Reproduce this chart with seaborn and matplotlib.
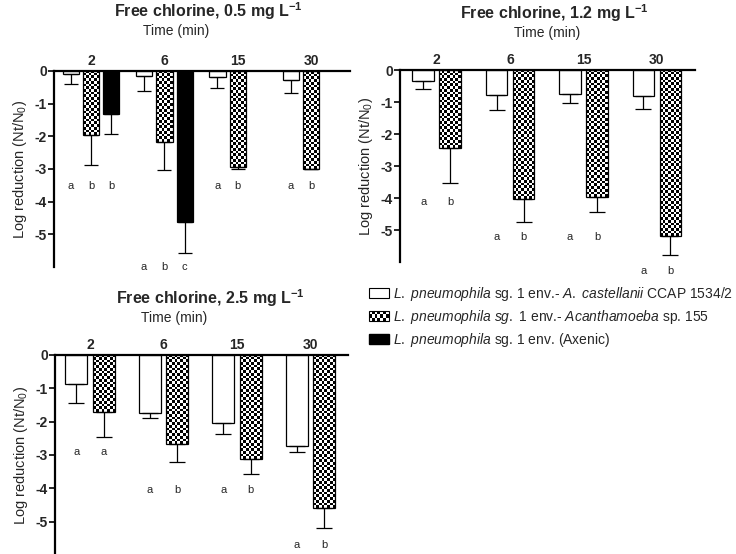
import numpy as np
import pandas as pd
import matplotlib
matplotlib.use("Agg")
import matplotlib.pyplot as plt
from matplotlib.colors import ListedColormap
from matplotlib.patches import Patch, Rectangle
from matplotlib.legend_handler import HandlerBase
import seaborn as sns

# ---------------- data ----------------
times = ["2", "6", "15", "30"]
strains = ["castellanii", "acanthamoeba", "axenic"]

# 0.5 mg/L
c05_cast = [-0.09, -0.14, -0.17, -0.28]
c05_cast_err = [0.32, 0.47, 0.36, 0.38]
c05_acan = [-1.96, -2.18, -2.93, -2.99]
c05_acan_err = [0.92, 0.85, 0.07, 0.02]
c05_axen_times = ["2", "6"]
c05_axen = [-1.32, -4.63]
c05_axen_err = [0.62, 0.95]
c05_letters = [["a", "b", "b"], ["a", "b", "c"], ["a", "b"], ["a", "b"]]
c05_letter_y = [-3.52, -6.0, -3.52, -3.52]

# 1.2 mg/L
c12_cast = [-0.35, -0.79, -0.75, -0.82]
c12_cast_err = [0.23, 0.47, 0.27, 0.39]
c12_acan = [-2.43, -4.04, -3.98, -5.19]
c12_acan_err = [1.11, 0.71, 0.45, 0.58]
c12_letters = [["a", "b"], ["a", "b"], ["a", "b"], ["a", "b"]]
c12_letter_y = [-4.14, -5.22, -5.22, -6.29]

# 2.5 mg/L
c25_cast = [-0.87, -1.74, -2.05, -2.73]
c25_cast_err = [0.58, 0.16, 0.33, 0.17]
c25_acan = [-1.72, -2.68, -3.13, -4.60]
c25_acan_err = [0.75, 0.52, 0.45, 0.60]
c25_letters = [["a", "a"], ["a", "b"], ["a", "b"], ["a", "b"]]
c25_letter_y = [-2.9, -4.05, -4.05, -5.7]

yticks = [0, -1, -2, -3, -4, -5]
titles = ["0.5", "1.2", "2.5"]

legend_labels = [
    r"$\mathit{L.\ pneumophila}$ sg. 1 env.- $\mathit{A.\ castellanii}$ CCAP 1534/2",
    r"$\mathit{L.\ pneumophila\ sg.}$ 1 env.- $\mathit{Acanthamoeba}$ sp. 155",
    r"$\mathit{L.\ pneumophila}$ sg. 1 env. (Axenic)",
]

# ---------------- style ----------------
sns.set_style("white")
plt.rcParams["font.family"] = ["Liberation Sans", "DejaVu Sans"]
plt.rcParams["mathtext.fontset"] = "custom"
plt.rcParams["mathtext.rm"] = "Liberation Sans"
plt.rcParams["mathtext.it"] = "Liberation Sans:italic"
plt.rcParams["mathtext.bf"] = "Liberation Sans:bold"
plt.rcParams["axes.unicode_minus"] = False

fig = plt.figure(figsize=(7.36, 5.54), dpi=100)
W, H = 736.0, 554.0


def ax_px(left, right, top, bottom):
    return fig.add_axes([left / W, 1 - bottom / H, (right - left) / W, (bottom - top) / H])


def build_df(cast, acan, axen_times=None, axen=None):
    rows = []
    for t, v in zip(times, cast):
        rows.append((t, "castellanii", v))
    for t, v in zip(times, acan):
        rows.append((t, "acanthamoeba", v))
    if axen is not None:
        for t, v in zip(axen_times, axen):
            rows.append((t, "axenic", v))
    return pd.DataFrame(rows, columns=["time", "strain", "value"])


checker_cmap = ListedColormap(["white", "black"])


def checker_fill(ax, patch, cell=2.7):
    x0, y0 = patch.get_x(), patch.get_y()
    w, h = patch.get_width(), patch.get_height()
    (px0, py0), (px1, py1) = ax.transData.transform([(x0, y0), (x0 + w, y0 + h)])
    ncol = max(1, int(round(abs(px1 - px0) / cell)))
    nrow = max(1, int(round(abs(py1 - py0) / cell)))
    arr = np.add.outer(np.arange(nrow), np.arange(ncol)) % 2
    im = ax.imshow(arr, cmap=checker_cmap, vmin=0, vmax=1,
                   extent=(x0, x0 + w, min(y0, y0 + h), max(y0, y0 + h)),
                   aspect="auto", interpolation="nearest", zorder=1.5, origin="upper")
    im.set_clip_path(patch)


def panel(box, df, hue_order, errs, letters, letter_y, width, xlim, capsize, title, title_xy, time_xy):
    ax = ax_px(*box)
    pal = {"castellanii": "white", "acanthamoeba": "white", "axenic": "black"}
    sns.barplot(data=df, x="time", y="value", hue="strain", order=times,
                hue_order=hue_order, palette=pal, saturation=1, errorbar=None,
                width=width, gap=0.2, dodge=True, legend=False,
                edgecolor="black", linewidth=0.9, ax=ax)
    ax.set_xlim(*xlim)
    ax.set_ylim(-6.0, 0)
    for hi, (cont, strain) in enumerate(zip(ax.containers, hue_order)):
        for patch in cont.patches:
            xc = patch.get_x() + patch.get_width() / 2
            gi = int(round(xc))
            val = patch.get_height()
            if np.isnan(val):
                continue
            e = errs[strain][times[gi]]
            ax.errorbar([xc], [val], yerr=[[e], [0]], fmt="none", ecolor="black",
                        elinewidth=0.9, capsize=capsize, capthick=0.9, zorder=3)
            if strain == "acanthamoeba":
                patch.set_zorder(2)
                patch.set_facecolor("none")
                checker_fill(ax, patch)
            lab = letters[gi]
            if hi < len(lab):
                ax.text(xc, letter_y[gi], lab[hi], ha="center", va="center",
                        fontsize=8, clip_on=False)
    ax.set_xlim(*xlim)
    ax.set_ylim(-6.0, 0)
    ax.xaxis.tick_top()
    ax.set_xticks(range(len(times)))
    ax.set_xticklabels(times, fontsize=10, fontweight="bold")
    ax.tick_params(axis="x", length=0, pad=2)
    ax.set_yticks(yticks)
    ax.set_yticklabels([str(v) for v in yticks], fontsize=10, fontweight="bold")
    ax.tick_params(axis="y", direction="out", length=4, width=1.4, pad=1, left=True)
    ax.set_xlabel("")
    ax.set_ylabel(r"Log reduction (Nt/N$_{\mathrm{0}}$)", fontsize=10.5, labelpad=4)
    for s in ["right", "bottom"]:
        ax.spines[s].set_visible(False)
    for s in ["left", "top"]:
        ax.spines[s].set_visible(True)
        ax.spines[s].set_linewidth(1.6)
        ax.spines[s].set_color("black")
    fig.text(title_xy[0] / W, 1 - title_xy[1] / H,
             r"Free chlorine, " + title + r" mg L$^{\mathbf{-1}}$",
             fontsize=11.5, fontweight="bold", ha="center", va="center")
    fig.text(time_xy[0] / W, 1 - time_xy[1] / H, "Time (min)", fontsize=10,
             ha="center", va="center")
    return ax


def err_map(cast_err, acan_err, axen_times=None, axen_err=None):
    m = {"castellanii": dict(zip(times, cast_err)),
         "acanthamoeba": dict(zip(times, acan_err))}
    if axen_err is not None:
        m["axenic"] = dict(zip(axen_times, axen_err))
    return m


ax1 = panel((54, 350, 71, 267),
            build_df(c05_cast, c05_acan, c05_axen_times, c05_axen),
            strains, err_map(c05_cast_err, c05_acan_err, c05_axen_times, c05_axen_err),
            c05_letters, c05_letter_y, 0.83, (-0.505, 3.53), 5,
            titles[0], (208, 11), (176, 31))

ax2 = panel((400, 695, 70, 262),
            build_df(c12_cast, c12_acan),
            strains[:2], err_map(c12_cast_err, c12_acan_err),
            c12_letters, c12_letter_y, 0.735, (-0.5, 3.52), 6,
            titles[1], (554, 13), (547, 33))

ax3 = panel((55, 348, 355, 555),
            build_df(c25_cast, c25_acan),
            strains[:2], err_map(c25_cast_err, c25_acan_err),
            c25_letters, c25_letter_y, 0.75, (-0.48, 3.51), 6,
            titles[2], (210, 298), (174, 318))


# ---------------- legend ----------------
class CheckerHandler(HandlerBase):
    def create_artists(self, legend, orig_handle, xdescent, ydescent, width, height, fontsize, trans):
        x0, y0 = -xdescent, -ydescent
        n = 7
        c = width / n
        m = max(1, int(round(height / c)))
        ch = height / m
        arts = [Rectangle((x0, y0), width, height, facecolor="white", edgecolor="black",
                          linewidth=0.8, transform=trans)]
        for i in range(n):
            for j in range(m):
                if (i + j) % 2:
                    arts.append(Rectangle((x0 + i * c, y0 + j * ch), c, ch, facecolor="black",
                                          edgecolor="none", transform=trans))
        return arts


h1 = Patch(facecolor="white", edgecolor="black", linewidth=0.8)
h2 = Patch(facecolor="white", edgecolor="black")
h3 = Patch(facecolor="black", edgecolor="black")
fig.legend([h1, h2, h3], legend_labels, handler_map={h2: CheckerHandler()},
           loc="upper left", bbox_to_anchor=(366 / W, 1 - 282 / H), frameon=False,
           fontsize=10, handlelength=1.45, handleheight=0.72, handletextpad=0.3,
           labelspacing=0.36, borderaxespad=0, borderpad=0.2)

fig.savefig("out.png", dpi=100, facecolor="white")
